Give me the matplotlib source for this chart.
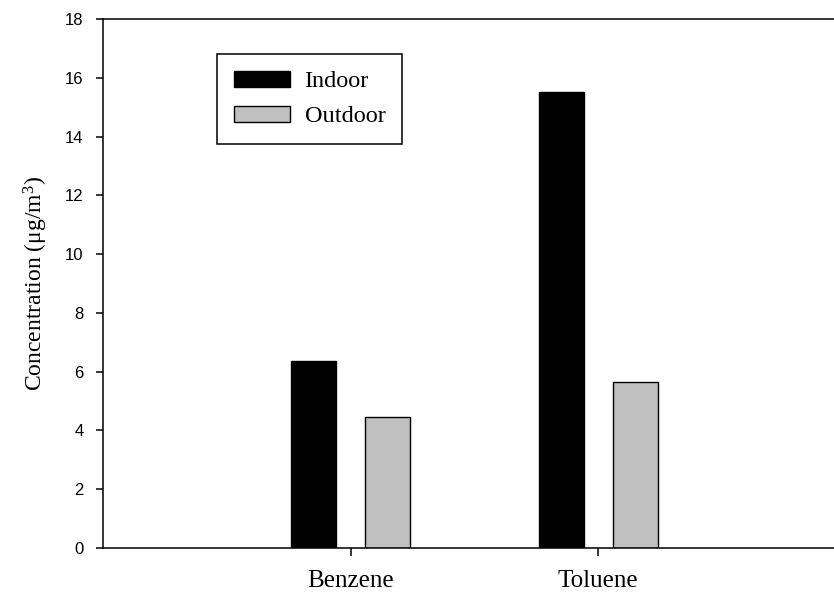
import numpy as np
import matplotlib
matplotlib.use("Agg")
import matplotlib.pyplot as plt

# Data
compounds = ["Benzene", "Toluene"]
indoor = [6.35, 15.5]
outdoor = [4.47, 5.66]
yticks = [0, 2, 4, 6, 8, 10, 12, 14, 16, 18]

plt.rcParams['mathtext.fontset'] = 'custom'
plt.rcParams['mathtext.rm'] = 'Liberation Serif'
plt.rcParams['mathtext.it'] = 'Liberation Serif:italic'

serif = 'Liberation Serif'
sans = 'Liberation Sans'

fig = plt.figure(figsize=(8.34, 5.96), dpi=100)
ax = fig.add_axes([103/834, 48/596, 1 - 103/834, (548 - 19)/596])

x = np.arange(1, len(compounds) + 1)
w = 0.181
off = 0.149
ax.bar(x - off, indoor, w, color='black', edgecolor='black', linewidth=1.0, label='Indoor')
ax.bar(x + off, outdoor, w, color='#c0c0c0', edgecolor='black', linewidth=1.0, label='Outdoor')

ax.set_xlim(0, 2.952)
ax.set_ylim(0, 18)
ax.set_yticks(yticks)
ax.set_xticks(x)
ax.set_xticklabels(compounds, fontfamily=serif, fontsize=18)
for lab in ax.get_yticklabels():
    lab.set_fontfamily(sans)
    lab.set_fontsize(12)

ax.spines['right'].set_visible(False)
for s in ['left', 'bottom', 'top']:
    ax.spines[s].set_linewidth(1.1)
ax.tick_params(axis='y', direction='out', length=5, width=1.1, pad=9)
ax.tick_params(axis='x', direction='out', length=6, width=1.1, pad=10)

ax.set_ylabel('Concentration (μg/m$^{3}$)', fontfamily=serif, fontsize=17, labelpad=11)

leg = ax.legend(loc='upper left', bbox_to_anchor=(217/834, 1 - 54/596),
                bbox_transform=fig.transFigure, borderaxespad=0,
                prop={'family': serif, 'size': 17.5}, fancybox=False,
                framealpha=1, edgecolor='black', handlelength=2.3,
                handleheight=0.62, handletextpad=0.6, labelspacing=0.55,
                borderpad=0.7)
leg.get_frame().set_linewidth(1.1)

fig.savefig('out.png', dpi=100)
